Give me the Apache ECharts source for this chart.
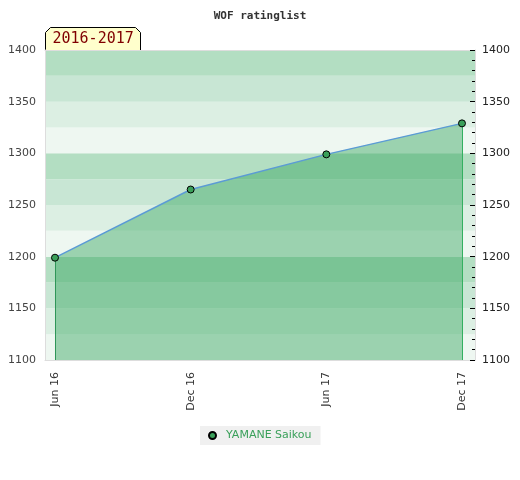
<!DOCTYPE html>
<html>
<head>
<meta charset="utf-8">
<script src="https://cdn.jsdelivr.net/npm/echarts@6/dist/echarts.min.js"></script>
<style>html,body{margin:0;padding:0;background:#fff}#c{width:520px;height:480px}</style>
</head>
<body>
<div id="c"></div>
<script>
// Data
var tickLabels = ['Jun 16', 'Dec 16', 'Jun 17', 'Dec 17'];
var tickMonths = [0, 6, 12, 18];          // months since Jun 2016
var pointMonths = [0, 6, 12, 18];
var ratings = [1199, 1265, 1299, 1329];
var playerName = 'YAMANE Saikou';
var periodLabel = '2016-2017';
var chartTitle = 'WOF ratinglist';
var yTicks = [1100, 1150, 1200, 1250, 1300, 1350, 1400];

var seriesData = pointMonths.map(function (m, i) { return [m, ratings[i]]; });
var labelFor = {};
tickMonths.forEach(function (m, i) { labelFor[m] = tickLabels[i]; });

var chart = echarts.init(document.getElementById('c'), null, {renderer: 'canvas'});
var yMin = yTicks[0], yMax = yTicks[yTicks.length - 1];
var first = seriesData[0], last = seriesData[seriesData.length - 1];

chart.setOption({
  animation: false,
  title: {
    text: chartTitle, left: 'center', top: 6,
    textStyle: {fontFamily: 'DejaVu Sans Mono', fontSize: 11, fontWeight: 'bold', color: '#333'}
  },
  grid: {left: 45, right: 45, top: 50, bottom: 120},
  legend: {
    bottom: 35, left: 200,
    backgroundColor: '#f0f0f0', padding: [4, 9, 4, 8],
    itemWidth: 17, itemHeight: 7, itemGap: 10,
    textStyle: {color: '#3aa05a', fontFamily: 'DejaVu Sans', fontSize: 11},
    data: [{name: playerName, icon: 'circle'}]
  },
  xAxis: [{
    type: 'value', min: -0.442, max: 18.575, position: 'bottom',
    splitLine: {show: false},
    axisLine: {show: true, onZero: false, lineStyle: {color: '#dddddd', width: 1}},
    axisTick: {show: false},
    axisLabel: {
      rotate: 90, margin: 12, color: '#333', fontFamily: 'DejaVu Sans', fontSize: 11,
      customValues: tickMonths, showMinLabel: true, showMaxLabel: true,
      formatter: function (v) { return labelFor[v] || ''; }
    }
  }, {
    type: 'value', min: -0.442, max: 18.575, position: 'top',
    splitLine: {show: false},
    axisLine: {show: true, onZero: false, lineStyle: {color: '#dddddd', width: 1}},
    axisTick: {show: false}, axisLabel: {show: false}
  }],
  yAxis: [{
    type: 'value', min: yMin, max: yMax, interval: 25, position: 'left',
    splitLine: {show: false},
    splitArea: {show: true, areaStyle: {color: ['#eef7f1', '#dcefe3', '#c8e6d4', '#b3dec2']}},
    axisLine: {show: true, onZero: false, lineStyle: {color: '#dddddd', width: 1}},
    axisTick: {show: false},
    axisLabel: {
      color: '#444', fontFamily: 'DejaVu Sans', fontSize: 11, margin: 9,
      formatter: function (v) { return v % 50 === 0 ? String(v) : ''; }
    }
  }, {
    type: 'value', min: yMin, max: yMax, interval: 50, position: 'right',
    splitLine: {show: false},
    axisLine: {show: true, onZero: false, lineStyle: {color: '#dddddd', width: 1}},
    axisTick: {show: true, inside: true, length: 5, lineStyle: {color: '#000'}},
    minorTick: {show: true, splitNumber: 5, length: 3, lineStyle: {color: '#000'}},
    axisLabel: {
      color: '#222', fontFamily: 'DejaVu Sans', fontSize: 11, margin: 7,
      formatter: function (v) { return String(v); }
    }
  }],
  series: [{
    name: playerName, type: 'line', data: seriesData,
    xAxisIndex: 0, yAxisIndex: 0,
    symbol: 'circle', symbolSize: 7,
    itemStyle: {color: '#3aa05a', borderColor: '#000', borderWidth: 1},
    lineStyle: {color: '#5b9bd5', width: 1.5},
    areaStyle: {color: 'rgb(50,163,90)', opacity: 0.44, origin: 'start'},
    z: 5,
    markLine: {
      silent: true, symbol: ['none', 'none'], label: {show: false},
      data: [
        [{coord: [first[0], first[1]], lineStyle: {color: '#2e8b57', width: 1, type: 'solid'}},
         {coord: [first[0], yMin]}],
        [{coord: [last[0], last[1]], lineStyle: {color: '#33b060', width: 1, type: 'solid'}},
         {coord: [last[0], yMin]}]
      ]
    }
  }],
  graphic: [{
    type: 'group', left: 45, top: 27, z: 100,
    children: [{
      type: 'polygon',
      shape: {points: [[0, 23], [0, 5], [5, 0], [90, 0], [95, 5], [95, 23]]},
      style: {fill: '#ffffcc', stroke: '#000', lineWidth: 1}
    }, {
      type: 'text', left: 7, top: 4,
      style: {text: periodLabel, fill: '#800000', font: '15px "DejaVu Sans Mono"'}
    }]
  }]
});
</script>
</body>
</html>
